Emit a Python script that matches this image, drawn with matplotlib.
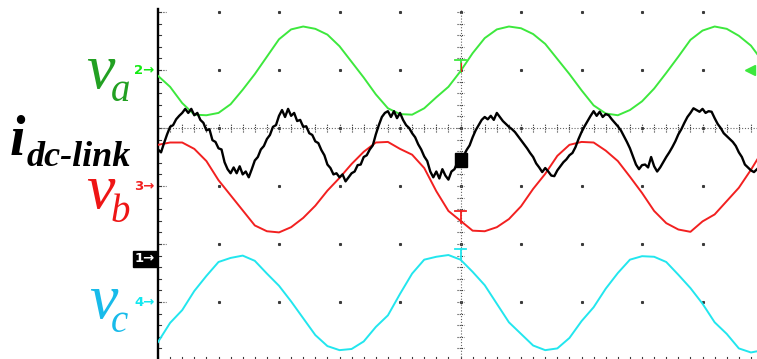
import matplotlib
matplotlib.use("Agg")
import matplotlib.pyplot as plt
import numpy as np
from matplotlib.patches import Rectangle

# ---------------- data ----------------
# time base: 5 ms/div, 10 divisions; voltages sampled every 1 ms, current every 0.25 ms
MS_PER_DIV = 5.0
DT_V = 1.0
DT_I = 0.25

# phase voltages, in divisions relative to each channel's ground marker
v_a = [-0.10, -0.29, -0.57, -0.77, -0.78, -0.74, -0.59, -0.34, -0.07, 0.23,
       0.53, 0.70, 0.75, 0.71, 0.61, 0.41, 0.14, -0.13, -0.42, -0.66,
       -0.76, -0.77, -0.66, -0.47, -0.29, -0.02, 0.29, 0.55, 0.70, 0.75,
       0.72, 0.62, 0.45, 0.19, -0.07, -0.35, -0.61, -0.75, -0.78, -0.69,
       -0.54, -0.32, -0.05, 0.23, 0.52, 0.68, 0.75, 0.71, 0.59, 0.42, 0.14]
v_b = [0.71, 0.75, 0.75, 0.64, 0.43, 0.10, -0.16, -0.42, -0.68, -0.78,
       -0.80, -0.71, -0.55, -0.34, -0.08, 0.14, 0.38, 0.59, 0.75, 0.76,
       0.64, 0.54, 0.31, -0.09, -0.43, -0.60, -0.77, -0.78, -0.71, -0.57,
       -0.35, -0.05, 0.21, 0.52, 0.71, 0.76, 0.75, 0.61, 0.43, 0.16,
       -0.12, -0.43, -0.64, -0.75, -0.79, -0.61, -0.49, -0.26, -0.03, 0.28, 0.62]
v_c = [-0.69, -0.36, -0.14, 0.19, 0.45, 0.69, 0.76, 0.80, 0.71, 0.49,
       0.28, 0.01, -0.28, -0.57, -0.76, -0.83, -0.81, -0.68, -0.43, -0.23,
       0.14, 0.49, 0.73, 0.78, 0.81, 0.73, 0.52, 0.29, -0.03, -0.35,
       -0.55, -0.75, -0.83, -0.80, -0.62, -0.33, -0.09, 0.23, 0.50, 0.73,
       0.79, 0.78, 0.69, 0.47, 0.24, -0.03, -0.35, -0.55, -0.80, -0.87, -0.83]

# dc-link current, in divisions relative to channel-1 ground marker
i_dc = [1.85, 1.80, 1.96, 2.11, 2.24, 2.27, 2.37, 2.43, 2.48, 2.55,
        2.48, 2.55, 2.44, 2.48, 2.36, 2.31, 2.18, 2.20, 2.01, 1.98,
        1.87, 1.85, 1.63, 1.51, 1.44, 1.54, 1.44, 1.56, 1.42, 1.47,
        1.37, 1.51, 1.66, 1.72, 1.85, 1.91, 2.03, 2.10, 2.24, 2.27,
        2.43, 2.53, 2.41, 2.55, 2.43, 2.48, 2.34, 2.36, 2.24, 2.25,
        2.13, 2.10, 1.99, 1.96, 1.84, 1.75, 1.59, 1.53, 1.42, 1.44,
        1.37, 1.42, 1.30, 1.37, 1.44, 1.47, 1.58, 1.59, 1.72, 1.75,
        1.85, 1.92, 2.11, 2.27, 2.41, 2.48, 2.51, 2.41, 2.51, 2.39,
        2.48, 2.36, 2.27, 2.22, 2.13, 2.06, 1.94, 1.85, 1.73, 1.65,
        1.47, 1.37, 1.47, 1.35, 1.51, 1.40, 1.33, 1.47, 1.51, 1.63,
        1.68, 1.73, 1.84, 1.92, 2.06, 2.18, 2.27, 2.36, 2.41, 2.37,
        2.43, 2.36, 2.48, 2.41, 2.34, 2.29, 2.24, 2.20, 2.15, 2.08,
        2.01, 1.94, 1.87, 1.79, 1.72, 1.61, 1.54, 1.46, 1.53, 1.47,
        1.40, 1.39, 1.49, 1.56, 1.63, 1.68, 1.75, 1.79, 1.89, 2.03,
        2.15, 2.25, 2.34, 2.43, 2.51, 2.43, 2.50, 2.41, 2.46, 2.44,
        2.37, 2.31, 2.25, 2.18, 2.08, 1.98, 1.87, 1.73, 1.59, 1.51,
        1.58, 1.59, 1.54, 1.72, 1.56, 1.47, 1.54, 1.63, 1.72, 1.80,
        1.89, 1.99, 2.11, 2.20, 2.31, 2.41, 2.48, 2.56, 2.53, 2.50,
        2.55, 2.48, 2.51, 2.50, 2.39, 2.29, 2.22, 2.13, 2.08, 2.03,
        1.98, 1.91, 1.80, 1.72, 1.59, 1.54, 1.49, 1.46, 1.51]

# channel ground-marker positions on the screen (divisions from bottom)
GND_A, GND_B, GND_C, GND_I = 5.0, 3.0, 1.0, 1.78

# ---------------- styling ----------------
C_GREEN, C_RED, C_CYAN = '#3de83d', '#f22020', '#22e6ee'
L_GREEN, L_RED, L_CYAN = '#22a022', '#ee1515', '#18bbea'

W, H = 757, 359
fig = plt.figure(figsize=(W / 100, H / 100), dpi=100)
fig.patch.set_facecolor('white')
PX_DIV = 57.7
ax = fig.add_axes([158 / W, 0, 599 / W, 349 / H])
ax.set_xlim(0, 49.5)
ax.set_ylim(1 / PX_DIV, 6 + 2 / PX_DIV)
ax.axis('off')

g = '#3a3a3a'
# left border
ax.plot([0, 0], [0, 6.05], color='black', lw=1.7, clip_on=False, zorder=3)
for y in np.arange(0, 6.01, 0.2):
    ax.plot([0, 0.28], [y, y], color=g, lw=0.8, clip_on=False)
for y in range(0, 7):
    ax.plot([0, 0.7], [y, y], color=g, lw=0.8, ls=(0, (1, 1.2)), clip_on=False)
# major dots
for x in np.arange(5, 50, 5):
    for y in range(0, 7):
        ax.plot([x], [y], marker='s', ms=1.2, color=g, clip_on=False)
# bottom ticks
for x in np.arange(0, 50, 1):
    ax.plot([x, x], [0.0, 0.06], color=g, lw=0.8, clip_on=False)
# center horizontal line
ax.plot([0, 49.5], [4, 4], color='#666', lw=0.8, ls=(0, (1, 1.6)))
for x in np.arange(0, 50, 1):
    ax.plot([x, x], [3.93, 4.07], color=g, lw=0.8, ls=(0, (1, 1)))
# center vertical line
ax.plot([25, 25], [0, 6.03], color='#666', lw=0.8, ls=(0, (1, 1.6)), clip_on=False)
for y in np.arange(0, 6.01, 0.2):
    ax.plot([24.72, 25.28], [y, y], color=g, lw=0.8, ls=(0, (1, 1)), clip_on=False)

# traces
t_v = np.arange(len(v_a)) * DT_V
t_i = np.arange(len(i_dc)) * DT_I
ax.plot(t_v, np.array(v_a) + GND_A, color=C_GREEN, lw=1.4, zorder=4)
ax.plot(t_v, np.array(v_b) + GND_B, color=C_RED, lw=1.4, zorder=4)
ax.plot(t_v, np.array(v_c) + GND_C, color=C_CYAN, lw=1.4, zorder=4)
ax.plot(t_i, np.array(i_dc) + GND_I, color='black', lw=1.7, zorder=5)

# cursor / trigger markers at screen centre
def cursor(y_top, y_bot, col):
    ax.plot([25, 25], [y_bot, y_top], color=col, lw=1.3, zorder=6)
    ax.plot([24.55, 25.45], [y_top, y_top], color=col, lw=1.3, zorder=6)

cursor(5.17, 4.96, C_GREEN)
ax.plot([25, 25], [5.12, 4.98], color=C_RED, lw=0.8, zorder=7)
cursor(2.57, 2.36, C_RED)
cursor(1.91, 1.72, C_CYAN)
ax.add_patch(Rectangle((24.55, 3.33), 1.0, 0.245, color='black', zorder=8))
ax.plot([48.9], [GND_A], marker='<', ms=7, color=C_GREEN, clip_on=False, zorder=6)

# channel markers
def fx(px):
    return px / W

def fy(py):
    return 1 - py / H

mk = dict(fontsize=9.5, fontweight='bold', family='DejaVu Sans', va='center', ha='left')
fig.text(fx(134), fy(71), '2\u2192', color='#12ea12', **mk)
fig.text(fx(134), fy(187), '3\u2192', color=C_RED, **mk)
fig.text(fx(134), fy(303), '4\u2192', color='#10e8f0', **mk)
fig.text(fx(135), fy(259), '1\u2192', color='white',
         bbox=dict(boxstyle='square,pad=0.12', fc='black', ec='black'), **mk)

# signal labels
ser = ['Liberation Serif', 'DejaVu Serif']
fig.text(fx(86), fy(88), 'v', fontsize=46, style='italic', family=ser, color=L_GREEN, va='baseline')
fig.text(fx(111), fy(101), 'a', fontsize=28, style='italic', family=ser, color=L_GREEN, va='baseline')
fig.text(fx(86), fy(208), 'v', fontsize=46, style='italic', family=ser, color=L_RED, va='baseline')
fig.text(fx(111), fy(222), 'b', fontsize=28, style='italic', family=ser, color=L_RED, va='baseline')
fig.text(fx(89), fy(318), 'v', fontsize=46, style='italic', family=ser, color=L_CYAN, va='baseline')
fig.text(fx(111), fy(332), 'c', fontsize=28, style='italic', family=ser, color=L_CYAN, va='baseline')
fig.text(fx(10), fy(155), 'i', fontsize=40, style='italic', fontweight='bold', family=ser,
         color='black', va='baseline')
fig.text(fx(27), fy(166), 'dc-link', fontsize=26, style='italic', fontweight='bold', family=ser,
         color='black', va='baseline')

fig.savefig('out.png', dpi=100, facecolor='white')
